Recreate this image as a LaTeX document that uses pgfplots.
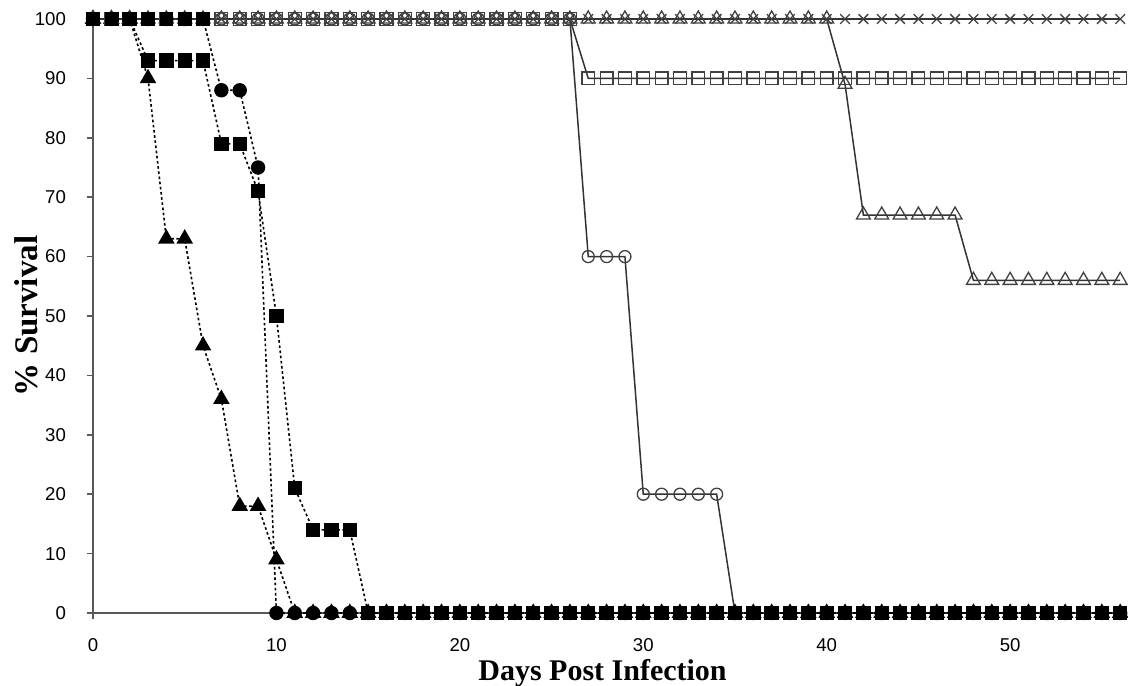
\documentclass[border=0pt]{standalone}
\usepackage{pgfplots}
\pgfplotsset{compat=1.18}
\usepackage{fontspec}
\setmainfont{Liberation Sans}
\newfontfamily\timesfont{Liberation Serif}
\begin{document}
\begin{tikzpicture}
\begin{axis}[
 scale only axis, width=514.5pt, height=297pt,
 xmin=0, xmax=56.1, ymin=0, ymax=100,
 axis lines=left, axis line style={-, draw=black!65, line width=1pt},
 xtick={0,10,...,50}, ytick={0,10,...,100},
 tick align=outside, major tick length=3pt, tick style={draw=black!65, line width=0.8pt},
 ticklabel style={font=\fontsize{9.3}{10}\selectfont},
 /pgf/number format/assume math mode=true,
 xticklabel style={yshift=-6pt}, yticklabel style={xshift=-7pt},
 clip=false,
 dsh/.style={black, line width=0.8pt, dash pattern=on 1.3pt off 1.3pt, mark options={solid, fill=black}},
 sol/.style={black!80, line width=0.75pt, mark options={solid, draw=black!75, line width=0.65pt}},
]
% open circles
\addplot[sol, mark=o, mark size=3pt] coordinates {(0,100)(1,100)(2,100)(3,100)(4,100)(5,100)(6,100)(7,100)(8,100)(9,100)(10,100)(11,100)(12,100)(13,100)(14,100)(15,100)(16,100)(17,100)(18,100)(19,100)(20,100)(21,100)(22,100)(23,100)(24,100)(25,100)(26,100)(27,60)(28,60)(29,60)(30,20)(31,20)(32,20)(33,20)(34,20)(35,0)};
% filled circles
\addplot[dsh, mark=*, mark size=3.2pt] coordinates {(0,100)(1,100)(2,100)(3,100)(4,100)(5,100)(6,100)(7,88)(8,88)(9,75)(10,0)(11,0)(12,0)(13,0)(14,0)(15,0)(16,0)(17,0)(18,0)(19,0)(20,0)(21,0)(22,0)(23,0)(24,0)(25,0)(26,0)(27,0)(28,0)(29,0)(30,0)(31,0)(32,0)(33,0)(34,0)(35,0)(36,0)(37,0)(38,0)(39,0)(40,0)(41,0)(42,0)(43,0)(44,0)(45,0)(46,0)(47,0)(48,0)(49,0)(50,0)(51,0)(52,0)(53,0)(54,0)(55,0)(56,0)};
% filled triangles
\addplot[dsh, mark=triangle*, mark size=4pt] coordinates {(0,100)(1,100)(2,100)(3,90)(4,63)(5,63)(6,45)(7,36)(8,18)(9,18)(10,9)(11,0)(12,0)(13,0)(14,0)(15,0)(16,0)(17,0)(18,0)(19,0)(20,0)(21,0)(22,0)(23,0)(24,0)(25,0)(26,0)(27,0)(28,0)(29,0)(30,0)(31,0)(32,0)(33,0)(34,0)(35,0)(36,0)(37,0)(38,0)(39,0)(40,0)(41,0)(42,0)(43,0)(44,0)(45,0)(46,0)(47,0)(48,0)(49,0)(50,0)(51,0)(52,0)(53,0)(54,0)(55,0)(56,0)};
% filled squares
\addplot[dsh, mark=square*, mark size=3.2pt] coordinates {(0,100)(1,100)(2,100)(3,93)(4,93)(5,93)(6,93)(7,79)(8,79)(9,71)(10,50)(11,21)(12,14)(13,14)(14,14)(15,0)(16,0)(17,0)(18,0)(19,0)(20,0)(21,0)(22,0)(23,0)(24,0)(25,0)(26,0)(27,0)(28,0)(29,0)(30,0)(31,0)(32,0)(33,0)(34,0)(35,0)(36,0)(37,0)(38,0)(39,0)(40,0)(41,0)(42,0)(43,0)(44,0)(45,0)(46,0)(47,0)(48,0)(49,0)(50,0)(51,0)(52,0)(53,0)(54,0)(55,0)(56,0)};
% open squares
\addplot[sol, mark=square, mark size=3.2pt] coordinates {(0,100)(1,100)(2,100)(3,100)(4,100)(5,100)(6,100)(7,100)(8,100)(9,100)(10,100)(11,100)(12,100)(13,100)(14,100)(15,100)(16,100)(17,100)(18,100)(19,100)(20,100)(21,100)(22,100)(23,100)(24,100)(25,100)(26,100)(27,90)(28,90)(29,90)(30,90)(31,90)(32,90)(33,90)(34,90)(35,90)(36,90)(37,90)(38,90)(39,90)(40,90)(41,90)(42,90)(43,90)(44,90)(45,90)(46,90)(47,90)(48,90)(49,90)(50,90)(51,90)(52,90)(53,90)(54,90)(55,90)(56,90)};
% open triangles
\addplot[sol, mark=triangle, mark size=4pt] coordinates {(0,100)(1,100)(2,100)(3,100)(4,100)(5,100)(6,100)(7,100)(8,100)(9,100)(10,100)(11,100)(12,100)(13,100)(14,100)(15,100)(16,100)(17,100)(18,100)(19,100)(20,100)(21,100)(22,100)(23,100)(24,100)(25,100)(26,100)(27,100)(28,100)(29,100)(30,100)(31,100)(32,100)(33,100)(34,100)(35,100)(36,100)(37,100)(38,100)(39,100)(40,100)(41,89)(42,67)(43,67)(44,67)(45,67)(46,67)(47,67)(48,56)(49,56)(50,56)(51,56)(52,56)(53,56)(54,56)(55,56)(56,56)};
% crosses
\addplot[sol, mark=x, mark size=3.4pt] coordinates {(0,100)(1,100)(2,100)(3,100)(4,100)(5,100)(6,100)(7,100)(8,100)(9,100)(10,100)(11,100)(12,100)(13,100)(14,100)(15,100)(16,100)(17,100)(18,100)(19,100)(20,100)(21,100)(22,100)(23,100)(24,100)(25,100)(26,100)(27,100)(28,100)(29,100)(30,100)(31,100)(32,100)(33,100)(34,100)(35,100)(36,100)(37,100)(38,100)(39,100)(40,100)(41,100)(42,100)(43,100)(44,100)(45,100)(46,100)(47,100)(48,100)(49,100)(50,100)(51,100)(52,100)(53,100)(54,100)(55,100)(56,100)};
% filled square marks at 100 (days 0-6), drawn on top
\addplot[only marks, mark=square*, mark size=3.2pt, black] coordinates {(0,100)(1,100)(2,100)(3,100)(4,100)(5,100)(6,100)};
\end{axis}
\node[rotate=90, font=\timesfont\bfseries\fontsize{16.5}{18}\selectfont] at ([xshift=-33.5pt]current axis.west) {\% Survival};
\node[anchor=base, font=\timesfont\bfseries\fontsize{15}{17}\selectfont] at ([yshift=-33.5pt,xshift=-2.5pt]current axis.south) {Days Post Infection};
\pgfresetboundingbox
\path[use as bounding box] ([xshift=-46.5pt,yshift=-36pt]current axis.south west) rectangle ([xshift=3pt,yshift=9.5pt]current axis.north east);
\end{tikzpicture}
\end{document}
